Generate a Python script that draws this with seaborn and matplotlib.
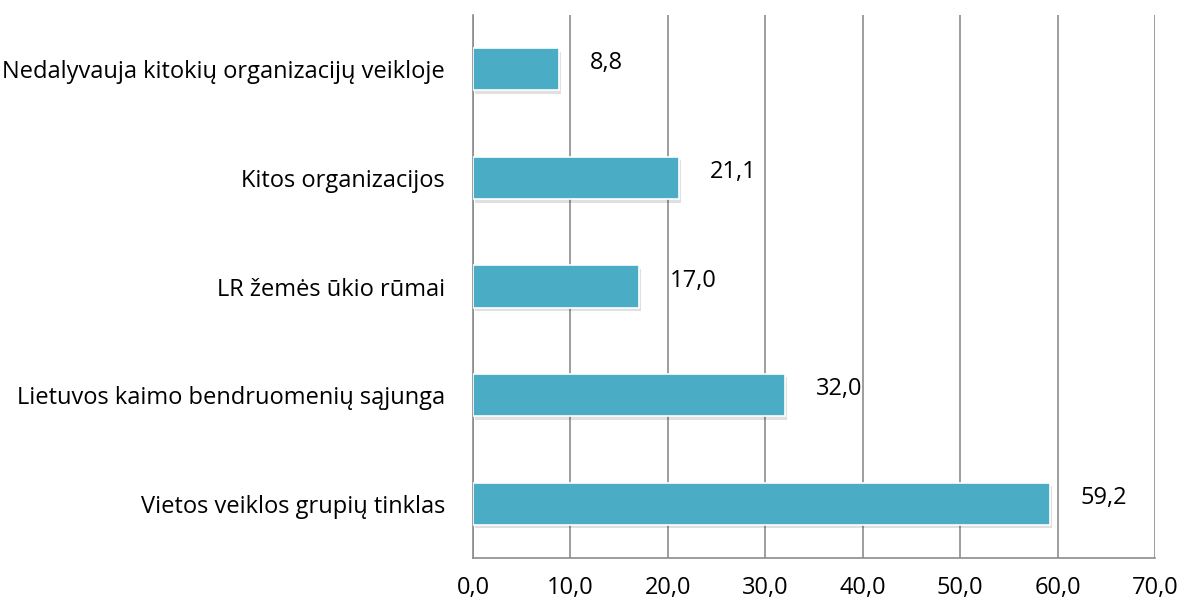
import matplotlib
matplotlib.use("Agg")
import matplotlib.pyplot as plt
import matplotlib.patheffects as pe
import seaborn as sns
import pandas as pd

categories = [
    "Nedalyvauja kitokių organizacijų veikloje",
    "Kitos organizacijos",
    "LR žemės ūkio rūmai",
    "Lietuvos kaimo bendruomenių sąjunga",
    "Vietos veiklos grupių tinklas",
]
values = [8.8, 21.1, 17.0, 32.0, 59.2]
value_labels = ["8,8", "21,1", "17,0", "32,0", "59,2"]
xticks = [0, 10, 20, 30, 40, 50, 60, 70]
xtick_labels = ["0,0", "10,0", "20,0", "30,0", "40,0", "50,0", "60,0", "70,0"]

sns.set_style("white")
plt.rcParams["font.family"] = ["Open Sans", "DejaVu Sans"]

df = pd.DataFrame({"cat": categories, "val": values})

fig = plt.figure(figsize=(11.82, 6.06), dpi=100)
ax = fig.add_axes([473 / 1182, 1 - 558 / 606, (1155 - 473) / 1182, (558 - 15) / 606])

sns.barplot(data=df, y="cat", x="val", orient="h", color="#4BACC6",
            saturation=1, width=0.39, ax=ax, zorder=3)

for p in ax.patches:
    p.set_edgecolor("white")
    p.set_linewidth(1.2)
    p.set_path_effects([pe.SimplePatchShadow(offset=(1.5, -2.5), shadow_rgbFace="#000000", alpha=0.12),
                        pe.Normal()])

ax.set_xlim(0, 70)
ax.set_ylim(4.5, -0.5)
ax.set_xticks(xticks)
ax.set_xticklabels(xtick_labels)
ax.set_yticks(range(len(categories)))
ax.set_yticklabels(categories)
ax.set_xlabel("")
ax.set_ylabel("")

ax.grid(axis="x", color="#8c8c8c", linewidth=1.2, zorder=0)
ax.set_axisbelow(True)

for s in ["top", "right"]:
    ax.spines[s].set_visible(False)
for s in ["left", "bottom"]:
    ax.spines[s].set_color("#8c8c8c")
    ax.spines[s].set_linewidth(1.2)

ax.set_yticks([i - 0.5 for i in range(len(categories) + 1)], minor=True)
ax.tick_params(axis="y", which="major", length=0, pad=20, labelsize=17, colors="black")
ax.tick_params(axis="y", which="minor", length=6, color="#8c8c8c", width=1.2)
ax.tick_params(axis="x", which="major", length=6, color="#8c8c8c", width=1.2,
               labelsize=17, labelcolor="black", pad=7)
ax.yaxis.set_tick_params(labelcolor="black")

for i, (v, lab) in enumerate(zip(values, value_labels)):
    ax.annotate(lab, xy=(v, i), xytext=(31, 6), textcoords="offset pixels",
                ha="left", va="center", fontsize=17, color="black")

fig.savefig("out.png", dpi=100)
